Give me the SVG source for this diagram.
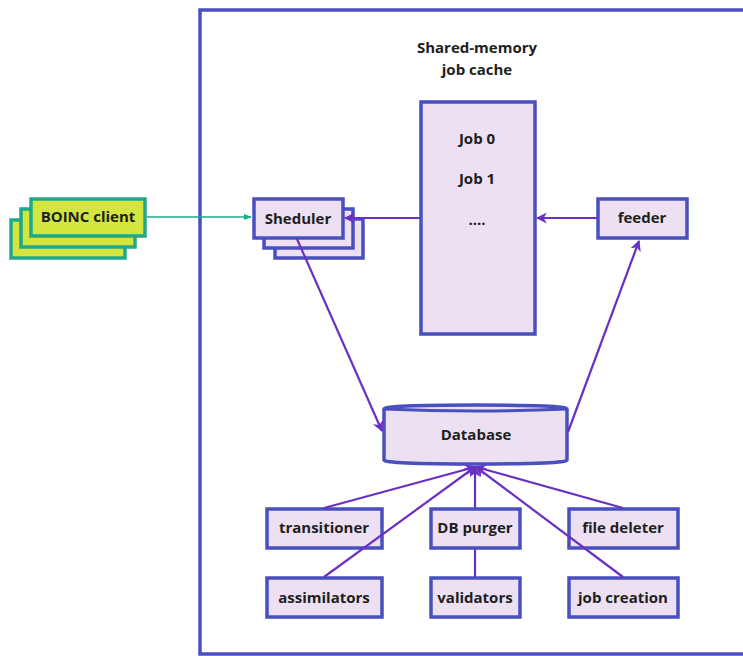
<svg xmlns="http://www.w3.org/2000/svg" width="743" height="656" viewBox="0 0 743 656">
<defs>
<style>
.box{fill:#ece0f2;stroke:#4a4fbf;stroke-width:3.5}
.grn{fill:#d3e53f;stroke:#1fa88a;stroke-width:3.5}
.t{font-family:"Open Sans","Liberation Sans",sans-serif;font-weight:bold;font-size:15px;fill:#1e1e1e;text-anchor:middle;dominant-baseline:central}
.c{stroke:#6a2fc4;stroke-width:2.2;fill:none}
.ct{stroke:#1fa88a;stroke-width:1.6;fill:none}
</style>
<marker id="ap" viewBox="0 0 10 10" refX="9" refY="5" markerWidth="5" markerHeight="5" orient="auto" markerUnits="strokeWidth"><path d="M0,0 L10,5 L0,10 L3,5 Z" fill="#6a2fc4"/></marker>
<marker id="at" viewBox="0 0 10 10" refX="9" refY="5" markerWidth="5" markerHeight="5" orient="auto" markerUnits="strokeWidth"><path d="M0,1 L10,5 L0,9 Z" fill="#1fa88a"/></marker>
</defs>
<rect x="200" y="10" width="600" height="644" fill="#fff" stroke="#4a4fbf" stroke-width="3.5"/>
<g id="boinc-client">
<rect class="grn" x="11" y="220" width="114" height="38"/>
<rect class="grn" x="21" y="209" width="114" height="38"/>
<rect class="grn" x="31" y="199" width="114" height="37"/>
<text class="t" x="88" y="216">BOINC client</text>
</g>
<g id="sheduler">
<rect class="box" x="275" y="219" width="88" height="39"/>
<rect class="box" x="264" y="209" width="89" height="39"/>
<rect class="box" x="254" y="199" width="89" height="39"/>
<text class="t" x="298" y="218">Sheduler</text>
</g>
<g id="job-cache">
<text class="t" x="477" y="47">Shared-memory</text>
<text class="t" x="477" y="69">job cache</text>
<rect class="box" x="421" y="102" width="114" height="232"/>
<text class="t" x="477" y="138">Job 0</text>
<text class="t" x="477" y="178">Job 1</text>
<text class="t" x="477" y="219">....</text>
</g>
<g id="feeder">
<rect class="box" x="598" y="199" width="89" height="39"/>
<text class="t" x="642" y="217">feeder</text>
</g>
<g id="database">
<path class="box" d="M384,409 Q384,405 476,405 Q567,405 567,409 V460 Q567,464 476,464 Q384,464 384,460 Z"/>
<path d="M384,409 Q476,413 567,409" fill="none" stroke="#4a4fbf" stroke-width="3"/>
<text class="t" x="476" y="434">Database</text>
</g>
<g id="transitioner"><rect class="box" x="267" y="509" width="115" height="39"/><text class="t" x="324" y="527">transitioner</text></g>
<g id="db-purger"><rect class="box" x="431" y="509" width="89" height="39"/><text class="t" x="475" y="527">DB purger</text></g>
<g id="file-deleter"><rect class="box" x="569" y="509" width="109" height="39"/><text class="t" x="623" y="527">file deleter</text></g>
<g id="assimilators"><rect class="box" x="267" y="578" width="115" height="39"/><text class="t" x="324" y="597">assimilators</text></g>
<g id="validators"><rect class="box" x="431" y="578" width="89" height="39"/><text class="t" x="475" y="597">validators</text></g>
<g id="job-creation"><rect class="box" x="569" y="578" width="109" height="39"/><text class="t" x="623" y="597">job creation</text></g>
<g id="connectors">
<line class="ct" x1="147" y1="217" x2="251" y2="217" marker-end="url(#at)"/>
<line class="c" x1="420" y1="218" x2="345" y2="218" marker-end="url(#ap)"/>
<line class="c" x1="597" y1="218" x2="537" y2="218" marker-end="url(#ap)"/>
<line class="c" x1="297" y1="239" x2="382" y2="431" marker-end="url(#ap)"/>
<line class="c" x1="568" y1="432" x2="639" y2="241" marker-end="url(#ap)"/>
<line class="c" x1="324" y1="508" x2="475" y2="467" marker-end="url(#ap)"/>
<line class="c" x1="324" y1="577" x2="475" y2="467" marker-end="url(#ap)"/>
<line class="c" x1="475" y1="508" x2="475" y2="467" marker-end="url(#ap)"/>
<line class="c" x1="475" y1="577" x2="475" y2="549"/>
<line class="c" x1="623" y1="508" x2="476" y2="467" marker-end="url(#ap)"/>
<line class="c" x1="623" y1="577" x2="476" y2="467" marker-end="url(#ap)"/>
</g>
</svg>
